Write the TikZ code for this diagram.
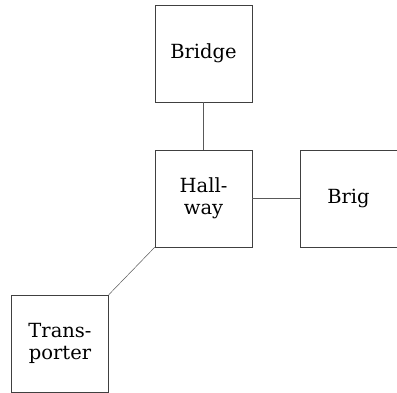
\documentclass[tikz,border=0pt]{standalone}
\usepackage{fontspec}
\setmainfont{DejaVu Serif}
\usetikzlibrary{positioning}

\tikzset{
	room/.style={draw=black!75, line width=0.6pt, minimum size=97pt, inner sep=0pt,
		align=center, font=\fontsize{19.5}{22}\selectfont},
	door/.style={draw=black!65, line width=0.5pt}
}

\begin{document}
\begin{tikzpicture}[x=1pt,y=1pt]
	\useasboundingbox (0,0) rectangle (397,393);
	
	\node[room] (hallway) at (203.5,194.5) {Hall-\\way};
	\node[room] (bridge) at (203.5,339.5) {Bridge};
	\node[room] (brig) at (348.5,194.5) {Brig};
	\node[room] (transporter) at (60,49.5) {Trans-\\porter};
	
	\draw[door] (bridge.south) -- (hallway.north);
	\draw[door] (hallway.east) -- (brig.west);
	\draw[door] (hallway.south west) -- (transporter.north east);
\end{tikzpicture}
\end{document}
